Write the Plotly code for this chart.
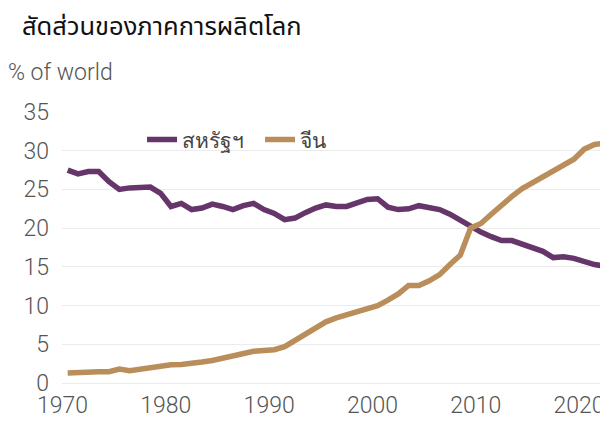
import plotly.graph_objects as go

years = list(range(1970, 2023))
us_share = [27.5, 27.0, 27.3, 27.3, 26.0, 25.0, 25.2, 25.3, 25.3, 24.5,
            22.8, 23.2, 22.4, 22.6, 23.1, 22.8, 22.4, 22.9, 23.2, 22.4,
            21.9, 21.1, 21.3, 22.0, 22.6, 23.0, 22.8, 22.8, 23.3, 23.7,
            23.8, 22.7, 22.4, 22.5, 22.9, 22.6, 22.4, 21.8, 21.0, 20.2,
            19.5, 18.9, 18.4, 18.4, 17.9, 17.5, 17.0, 16.2, 16.3, 16.1,
            15.7, 15.3, 15.1]
china_share = [1.3, 1.4, 1.45, 1.45, 1.45, 1.8, 1.6, 1.8, 2.0, 2.15,
               2.35, 2.4, 2.5, 2.7, 2.9, 3.2, 3.5, 3.8, 4.1, 4.2,
               4.3, 4.7, 5.5, 6.5, 7.3, 7.9, 8.4, 8.8, 9.3, 9.7,
               10.0, 10.7, 11.5, 12.6, 12.6, 13.2, 14.0, 15.3, 16.5, 20.0,
               20.6, 21.8, 23.0, 24.1, 25.1, 25.9, 26.7, 27.5, 28.1, 28.9,
               30.2, 30.8, 31.0]
series_names = ["สหรัฐฯ", "จีน"]
x_ticks = [1970, 1980, 1990, 2000, 2010, 2020]
y_ticks = [0, 5, 10, 15, 20, 25, 30, 35]
title_text = "สัดส่วนของภาคการผลิตโลก"
y_label = "% of world"

PURPLE = "#66366A"
TAN = "#BA8E5A"
FONT = "Roboto, Liberation Sans, sans-serif"

fig = go.Figure()
fig.add_trace(go.Scatter(x=years, y=us_share, mode="lines", name=series_names[0],
                         line=dict(color=PURPLE, width=5.5)))
fig.add_trace(go.Scatter(x=years, y=china_share, mode="lines", name=series_names[1],
                         line=dict(color=TAN, width=5.5)))

# year labels sit at the start of each year's interval
tick_positions = [t - 0.5 for t in x_ticks]
tick_labels = [str(t) for t in x_ticks]

W, H = 608, 421
fig.update_layout(
    width=W, height=H,
    margin=dict(l=53.5, r=8, t=104, b=45.5, autoexpand=False),
    paper_bgcolor="white", plot_bgcolor="white",
    font=dict(family=FONT, color="#555555", weight=300),
    title=dict(text=title_text, xref="container", yref="container",
               x=14/W, y=1-18/H, xanchor="left", yanchor="middle",
               font=dict(family="Noto Sans Thai, Noto Sans, sans-serif", size=25.5,
                         color="#111111", weight=400)),
    showlegend=True,
    legend=dict(orientation="h", x=0.1466, y=0.897, xanchor="left", yanchor="middle",
                font=dict(size=21, color="#444444", weight=400), bgcolor="rgba(0,0,0,0)",
                itemwidth=30, tracegroupgap=0, entrywidth=73),
    xaxis=dict(range=[1969.45, 2022.3], tickvals=tick_positions, ticktext=tick_labels,
               showgrid=False, zeroline=False, showline=False, ticks="", automargin=False,
               ticklabelstandoff=6,
               tickfont=dict(size=23, color="#555555")),
    yaxis=dict(range=[0, 35], tickvals=y_ticks, showgrid=True, gridcolor="#EBEBEB",
               gridwidth=1, zeroline=True, zerolinecolor="#EBEBEB", zerolinewidth=1,
               showline=False, ticks="", automargin=False, ticklabelstandoff=12,
               tickfont=dict(size=23, color="#555555")),
    annotations=[dict(text=y_label, xref="paper", yref="paper",
                      x=-56.5/546.5, y=(375.5-64)/271.5, xanchor="left", yanchor="middle",
                      showarrow=False, font=dict(size=23, color="#555555"))],
)

fig.write_html("out.html")
